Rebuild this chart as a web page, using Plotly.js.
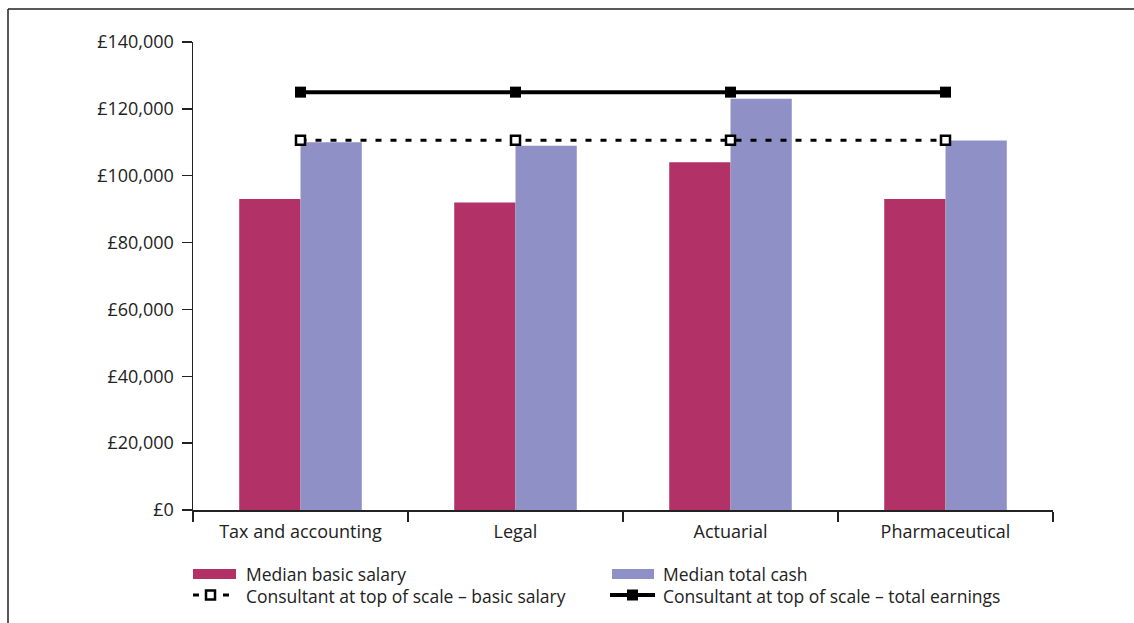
<!DOCTYPE html>
<html>
<head>
<meta charset="utf-8">
<script src="https://cdn.plot.ly/plotly-3.0.1.min.js"></script>
<style>
  html, body { margin: 0; padding: 0; background: #fff; }
  #chart { width: 1134px; height: 623px; }
</style>
</head>
<body>
<div id="chart"></div>
<script>
// Salary comparison by sector (GBP)
const categories = ["Tax and accounting", "Legal", "Actuarial", "Pharmaceutical"];
const medianBasicSalary = [93000, 92000, 104000, 93000];
const medianTotalCash = [110000, 109000, 123000, 110500];
const consultantBasicSalary = [110600, 110600, 110600, 110600];
const consultantTotalEarnings = [125000, 125000, 125000, 125000];
const seriesNames = [
  "Median basic salary",
  "Median total cash",
  "Consultant at top of scale \u2013 basic salary",
  "Consultant at top of scale \u2013 total earnings"
];

const W = 1134, H = 623;
const M = { l: 193, r: 81, t: 42, b: 113 };
const plotW = W - M.l - M.r, plotH = H - M.t - M.b;
// pixel -> paper coordinate helpers for legend and frame decorations
const px = x => (x - M.l) / plotW;
const py = y => (H - M.b - y) / plotH;

const FONT = "Open Sans, Liberation Sans, sans-serif";
const TEXT = "#222";
const PINK = "#B23268";
const BLUE = "#8F91C6";

const traces = [
  { type: "bar", x: categories, y: medianBasicSalary, name: seriesNames[0],
    marker: { color: PINK }, hoverinfo: "skip" },
  { type: "bar", x: categories, y: medianTotalCash, name: seriesNames[1],
    marker: { color: BLUE }, hoverinfo: "skip" },
  { type: "scatter", mode: "lines+markers", x: categories, y: consultantBasicSalary,
    name: seriesNames[2],
    line: { color: "#000", width: 3, dash: "6px,9px" },
    marker: { symbol: "square", size: 9, color: "#fff", line: { color: "#000", width: 2.5 } },
    hoverinfo: "skip" },
  { type: "scatter", mode: "lines+markers", x: categories, y: consultantTotalEarnings,
    name: seriesNames[3],
    line: { color: "#000", width: 4 },
    marker: { symbol: "square", size: 11, color: "#000" },
    hoverinfo: "skip" }
];

// Legend drawn as shapes + text at the bottom
const shapes = [
  // outer frame: top and left edges
  { type: "line", xref: "paper", yref: "paper", x0: px(8), x1: px(1134), y0: py(9), y1: py(9),
    line: { color: "#222", width: 1.5 } },
  { type: "line", xref: "paper", yref: "paper", x0: px(8), x1: px(8), y0: py(9), y1: py(623),
    line: { color: "#222", width: 1.5 } },
  // bar swatches
  { type: "rect", xref: "paper", yref: "paper", x0: px(193), x1: px(236), y0: py(569), y1: py(579),
    fillcolor: PINK, line: { width: 0 } },
  { type: "rect", xref: "paper", yref: "paper", x0: px(612), x1: px(654), y0: py(569), y1: py(579),
    fillcolor: BLUE, line: { width: 0 } },
  // dashed line swatch
  { type: "line", xref: "paper", yref: "paper", x0: px(193), x1: px(199), y0: py(595), y1: py(595),
    line: { color: "#000", width: 3 } },
  { type: "line", xref: "paper", yref: "paper", x0: px(223), x1: px(229), y0: py(595), y1: py(595),
    line: { color: "#000", width: 3 } },
  { type: "rect", xref: "paper", yref: "paper", x0: px(206), x1: px(215), y0: py(590.5), y1: py(599.5),
    fillcolor: "#fff", line: { color: "#000", width: 2.5 } },
  // solid line swatch
  { type: "line", xref: "paper", yref: "paper", x0: px(610), x1: px(655), y0: py(595), y1: py(595),
    line: { color: "#000", width: 4 } },
  { type: "rect", xref: "paper", yref: "paper", x0: px(627), x1: px(638), y0: py(589.5), y1: py(600.5),
    fillcolor: "#000", line: { width: 0 } }
];

const legendPos = [[244, 574], [661, 574], [244, 596], [661, 596]];
const annotations = seriesNames.map((name, i) => ({
  xref: "paper", yref: "paper", x: px(legendPos[i][0]), y: py(legendPos[i][1]),
  xanchor: "left", yanchor: "middle", showarrow: false, text: name,
  font: { family: FONT, size: 17.5, color: TEXT }
}));

const layout = {
  width: W, height: H,
  margin: M,
  paper_bgcolor: "#fff", plot_bgcolor: "#fff",
  font: { family: FONT, size: 18, color: TEXT },
  showlegend: false,
  barmode: "group", bargap: 0.43, bargroupgap: 0,
  xaxis: {
    type: "category", showline: true, linecolor: "#222", linewidth: 1.5,
    ticks: "outside", tickson: "boundaries", ticklen: 10, tickcolor: "#222", tickwidth: 1.5,
    ticklabelstandoff: 5,
    showgrid: false, zeroline: false, fixedrange: true,
    tickfont: { family: FONT, size: 18, color: TEXT }
  },
  yaxis: {
    range: [0, 140000], dtick: 20000, tick0: 0,
    tickprefix: "\u00a3", tickformat: ",d", separatethousands: true,
    showline: true, linecolor: "#222", linewidth: 1.5,
    ticks: "outside", ticklen: 10, tickcolor: "#222", tickwidth: 1.5,
    ticklabelstandoff: 4,
    showgrid: false, zeroline: false, fixedrange: true,
    tickfont: { family: FONT, size: 18, color: TEXT }
  },
  shapes: shapes,
  annotations: annotations
};

Plotly.newPlot("chart", traces, layout, { displayModeBar: false, staticPlot: true });
</script>
</body>
</html>
